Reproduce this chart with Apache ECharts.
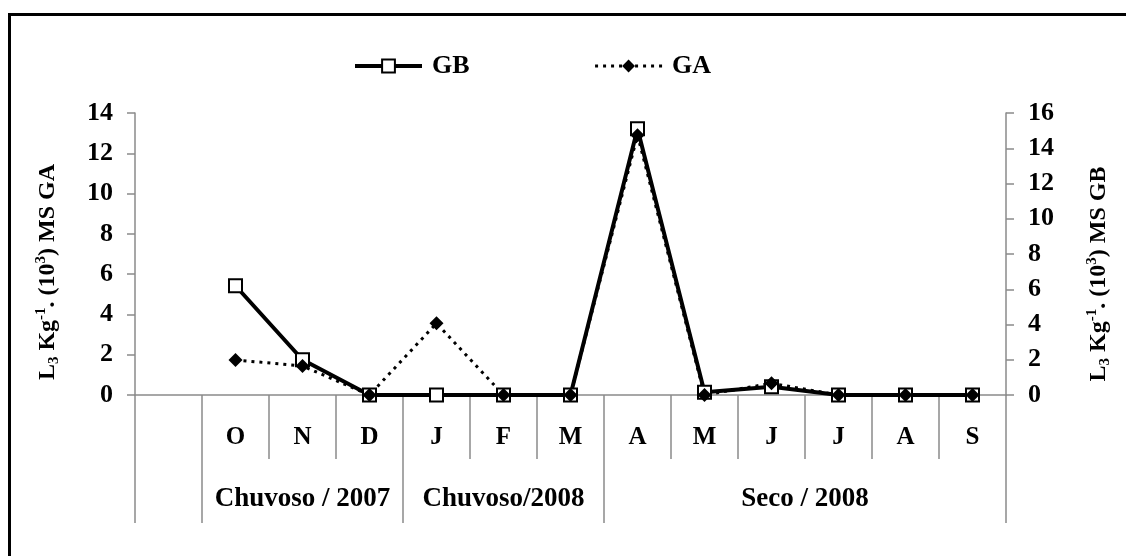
<!DOCTYPE html>
<html>
<head>
<meta charset="utf-8">
<script src="https://cdn.jsdelivr.net/npm/echarts@6/dist/echarts.min.js"></script>
<style>
  html, body { margin: 0; padding: 0; background: #fff; }
  #chart { width: 1126px; height: 556px; }
</style>
</head>
<body>
<div id="chart"></div>
<script>
// Month categories (first slot is an empty leading column)
const months = ['', 'O', 'N', 'D', 'J', 'F', 'M', 'A', 'M', 'J', 'J', 'A', 'S'];
// GB on the right axis, GA on the left axis
const gbValues = [null, 6.2, 2.0, 0, 0, 0, 0, 15.1, 0.15, 0.47, 0, 0, 0];
const gaValues = [null, 1.74, 1.44, 0, 3.56, 0, 0, 12.9, 0, 0.58, 0, 0, 0];
// Season groups under the month row
const seasonNames = ['Chuvoso / 2007', 'Chuvoso/2008', 'Seco / 2008'];
const seasonSpans = [3, 3, 6];
const leadSlots = 1;
// Axis ranges
const leftAxis = { min: 0, max: 14, interval: 2 };
const rightAxis = { min: 0, max: 16, interval: 2 };

const FONT = 'Liberation Serif';
const GRAY = '#8a8a8a';

// boundaries and centers of the season groups, in slot units
const seasonBounds = [0, leadSlots];
const seasonCenters = [];
let acc = leadSlots;
seasonSpans.forEach(s => {
  seasonCenters.push(acc + s / 2);
  acc += s;
  seasonBounds.push(acc);
});

const titleRich = {
  sub: { fontFamily: FONT, fontWeight: 'bold', fontSize: 15, verticalAlign: 'bottom', lineHeight: 28 },
  sup: { fontFamily: FONT, fontWeight: 'bold', fontSize: 15, verticalAlign: 'top', lineHeight: 28 }
};

const chart = echarts.init(document.getElementById('chart'), null, { renderer: 'canvas' });
chart.setOption({
  animation: false,
  backgroundColor: '#fff',
  textStyle: { fontFamily: FONT, fontWeight: 'bold', color: '#000' },
  grid: { left: 135, right: 120, top: 113, bottom: 161, containLabel: false },
  legend: {
    data: [
      { name: 'GB', lineStyle: { width: 4 } },
      { name: 'GA', lineStyle: { width: 3 } }
    ],
    left: 348,
    top: 48,
    itemWidth: 67,
    itemHeight: 16,
    itemGap: 124,
    textStyle: { fontFamily: FONT, fontWeight: 'bold', fontSize: 26, color: '#000', padding: [0, 0, 0, 5] }
  },
  xAxis: [
    {
      type: 'category',
      data: months,
      boundaryGap: true,
      axisLine: { show: true, lineStyle: { color: GRAY, width: 1.5 } },
      axisTick: { show: true, interval: 0, length: 64, lineStyle: { color: GRAY, width: 1.5 } },
      axisLabel: { interval: 0, margin: 30, fontFamily: FONT, fontWeight: 'bold', fontSize: 25, color: '#000' },
      splitLine: { show: false }
    },
    {
      type: 'value',
      min: 0,
      max: months.length,
      position: 'bottom',
      axisLine: { show: false },
      splitLine: { show: false },
      axisTick: { show: true, customValues: seasonBounds, length: 128, lineStyle: { color: GRAY, width: 1.5 } },
      axisLabel: {
        show: true,
        customValues: seasonCenters,
        margin: 91,
        fontFamily: FONT, fontWeight: 'bold', fontSize: 27, color: '#000',
        formatter: v => {
          const i = seasonCenters.indexOf(v);
          return i >= 0 ? seasonNames[i] : '';
        }
      }
    }
  ],
  yAxis: [
    {
      type: 'value',
      position: 'left',
      min: leftAxis.min, max: leftAxis.max, interval: leftAxis.interval,
      axisLine: { show: true, lineStyle: { color: GRAY, width: 1.5 } },
      axisTick: { show: true, length: 8, lineStyle: { color: GRAY, width: 1.5 } },
      axisLabel: { margin: 22, fontFamily: FONT, fontWeight: 'bold', fontSize: 26, color: '#000' },
      splitLine: { show: false },
      name: 'L{sub|3} Kg{sup|-1}. (10{sup|3}) MS GA',
      nameLocation: 'middle',
      nameGap: 73,
      nameTextStyle: { fontFamily: FONT, fontWeight: 'bold', fontSize: 24, color: '#000', lineHeight: 28, padding: [0, 36, 0, 0], rich: titleRich }
    },
    {
      type: 'value',
      position: 'right',
      min: rightAxis.min, max: rightAxis.max, interval: rightAxis.interval,
      axisLine: { show: true, lineStyle: { color: GRAY, width: 1.5 } },
      axisTick: { show: true, length: 8, lineStyle: { color: GRAY, width: 1.5 } },
      axisLabel: { margin: 22, fontFamily: FONT, fontWeight: 'bold', fontSize: 26, color: '#000' },
      splitLine: { show: false },
      name: 'L{sub|3} Kg{sup|-1}. (10{sup|3}) MS GB',
      nameLocation: 'middle',
      nameGap: 79,
      nameTextStyle: { fontFamily: FONT, fontWeight: 'bold', fontSize: 24, color: '#000', lineHeight: 28, padding: [0, 40, 0, 0], rich: titleRich }
    }
  ],
  series: [
    {
      name: 'GB',
      type: 'line',
      xAxisIndex: 0,
      yAxisIndex: 1,
      data: gbValues,
      connectNulls: false,
      symbol: 'rect',
      symbolSize: 13,
      showAllSymbol: true,
      lineStyle: { color: '#000', width: 4, type: 'solid' },
      itemStyle: { color: '#fff', borderColor: '#000', borderWidth: 2 }
    },
    {
      name: 'GA',
      type: 'line',
      xAxisIndex: 0,
      yAxisIndex: 0,
      data: gaValues,
      symbol: 'diamond',
      symbolSize: 14,
      showAllSymbol: true,
      lineStyle: { color: '#000', width: 3, type: [3, 5] },
      itemStyle: { color: '#000', borderColor: '#000', borderWidth: 0 }
    }
  ],
  graphic: [
    {
      type: 'polyline',
      silent: true,
      shape: { points: [[9.5, 560], [9.5, 14.5], [1130, 14.5]] },
      style: { stroke: '#000', lineWidth: 3, fill: null }
    }
  ]
});
</script>
</body>
</html>
